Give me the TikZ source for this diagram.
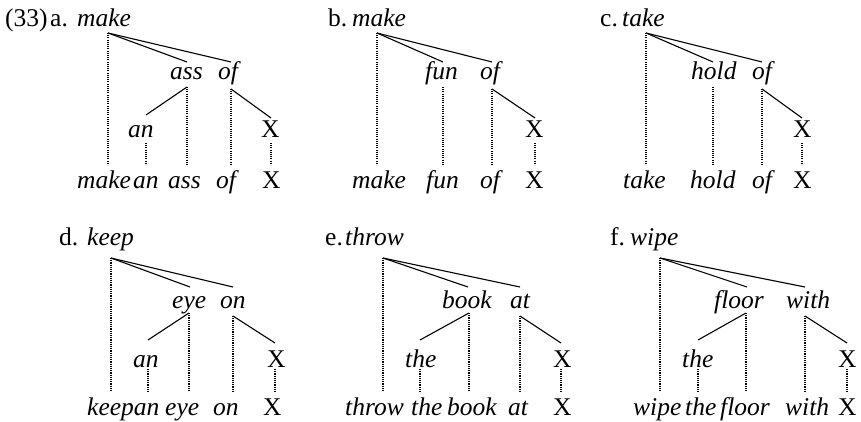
\documentclass[tikz,border=0pt]{standalone}
\usepackage{fontspec}
\setmainfont{Liberation Serif}
\begin{document}
\begin{tikzpicture}[x=1pt,y=-1pt,
  it/.style={font=\fontsize{25.5}{28}\selectfont\itshape, inner sep=0pt, anchor=base west},
  rm/.style={font=\fontsize{25.5}{28}\selectfont, inner sep=0pt, anchor=base west},
  br/.style={line width=1.1pt},
  dt/.style={line width=1.1pt, dash pattern=on 1.1pt off 1.1pt}]
\useasboundingbox (0,0) rectangle (861,422);
% ---------------- a ----------------
\node[rm] (a-num) at (5,27) {(33)};
\node[rm] (a-let) at (50,27) {a.};
\node[it] (a-head) at (77,27) {make};
\node[it] (a-ass) at (170,80) {ass};
\node[it] (a-of) at (218,80) {of};
\node[it] (a-an) at (128,138) {an};
\node[rm] (a-X) at (261,138) {X};
\node[it] (a-w1) at (77,188) {make};
\node[it] (a-w2) at (133,188) {an};
\node[it] (a-w3) at (168,188) {ass};
\node[it] (a-w4) at (216,188) {of};
\node[rm] (a-w5) at (262,188) {X};
\coordinate (a-r) at (108,33);
\coordinate (a-asst) at (187,62); \coordinate (a-oft) at (231,62);
\coordinate (a-assb) at (187,87); \coordinate (a-ofb) at (231,89);
\coordinate (a-ant) at (146,115); \coordinate (a-Xt) at (271,118);
\coordinate (a-anb) at (146,143); \coordinate (a-Xb) at (271,143);
\coordinate (a-b1) at (108,165); \coordinate (a-b2) at (146,165);
\coordinate (a-b3) at (187,165); \coordinate (a-b4) at (231,165);
\coordinate (a-b5) at (271,165);
\draw[br] (a-r) -- (a-asst);
\draw[br] (a-r) -- (a-oft);
\draw[br] (a-assb) -- (a-ant);
\draw[br] (a-ofb) -- (a-Xt);
\draw[dt] (a-r) -- (a-b1);
\draw[dt] (a-anb) -- (a-b2);
\draw[dt] (a-assb) -- (a-b3);
\draw[dt] (a-ofb) -- (a-b4);
\draw[dt] (a-Xb) -- (a-b5);
% ---------------- b ----------------
\node[rm] (b-let) at (328,27) {b.};
\node[it] (b-head) at (352,27) {make};
\node[it] (b-fun) at (425,80) {fun};
\node[it] (b-of) at (480,80) {of};
\node[rm] (b-X) at (525,138) {X};
\node[it] (b-w1) at (352,188) {make};
\node[it] (b-w2) at (426,188) {fun};
\node[it] (b-w3) at (480,188) {of};
\node[rm] (b-w4) at (525,188) {X};
\coordinate (b-r) at (377,33);
\coordinate (b-funt) at (443,62); \coordinate (b-oft) at (492,62);
\coordinate (b-funb) at (443,87); \coordinate (b-ofb) at (492,89);
\coordinate (b-Xt) at (535,118); \coordinate (b-Xb) at (535,143);
\coordinate (b-b1) at (377,165); \coordinate (b-b2) at (443,165);
\coordinate (b-b3) at (492,165); \coordinate (b-b4) at (535,165);
\draw[br] (b-r) -- (b-funt);
\draw[br] (b-r) -- (b-oft);
\draw[br] (b-ofb) -- (b-Xt);
\draw[dt] (b-r) -- (b-b1);
\draw[dt] (b-funb) -- (b-b2);
\draw[dt] (b-ofb) -- (b-b3);
\draw[dt] (b-Xb) -- (b-b4);
% ---------------- c ----------------
\node[rm] (c-let) at (600,27) {c.};
\node[it] (c-head) at (622,27) {take};
\node[it] (c-hold) at (691,80) {hold};
\node[it] (c-of) at (752,80) {of};
\node[rm] (c-X) at (793,138) {X};
\node[it] (c-w1) at (623,188) {take};
\node[it] (c-w2) at (690,188) {hold};
\node[it] (c-w3) at (752,188) {of};
\node[rm] (c-w4) at (793,188) {X};
\coordinate (c-r) at (646,33);
\coordinate (c-holdt) at (713,62); \coordinate (c-oft) at (762,62);
\coordinate (c-holdb) at (713,87); \coordinate (c-ofb) at (762,89);
\coordinate (c-Xt) at (802,118); \coordinate (c-Xb) at (802,143);
\coordinate (c-b1) at (646,165); \coordinate (c-b2) at (713,165);
\coordinate (c-b3) at (762,165); \coordinate (c-b4) at (802,165);
\draw[br] (c-r) -- (c-holdt);
\draw[br] (c-r) -- (c-oft);
\draw[br] (c-ofb) -- (c-Xt);
\draw[dt] (c-r) -- (c-b1);
\draw[dt] (c-holdb) -- (c-b2);
\draw[dt] (c-ofb) -- (c-b3);
\draw[dt] (c-Xb) -- (c-b4);
% ---------------- d ----------------
\node[rm] (d-let) at (59,245) {d.};
\node[it] (d-head) at (87,245) {keep};
\node[it] (d-eye) at (172,308) {eye};
\node[it] (d-on) at (220,308) {on};
\node[it] (d-an) at (133,367) {an};
\node[rm] (d-X) at (267,367) {X};
\node[it] (d-w1) at (87,415) {keepan};
\node[it] (d-w3) at (165,415) {eye};
\node[it] (d-w4) at (213,415) {on};
\node[rm] (d-w5) at (263,415) {X};
\coordinate (d-r) at (111,258);
\coordinate (d-eyet) at (190,287); \coordinate (d-ont) at (233,287);
\coordinate (d-eyeb) at (189,313); \coordinate (d-onb) at (233,316);
\coordinate (d-ant) at (148,340); \coordinate (d-Xt) at (275,343);
\coordinate (d-anb) at (148,369); \coordinate (d-Xb) at (275,369);
\coordinate (d-b1) at (111,392); \coordinate (d-b2) at (148,392);
\coordinate (d-b3) at (189,392); \coordinate (d-b4) at (233,392);
\coordinate (d-b5) at (275,392);
\draw[br] (d-r) -- (d-eyet);
\draw[br] (d-r) -- (d-ont);
\draw[br] (d-eyeb) -- (d-ant);
\draw[br] (d-onb) -- (d-Xt);
\draw[dt] (d-r) -- (d-b1);
\draw[dt] (d-anb) -- (d-b2);
\draw[dt] (d-eyeb) -- (d-b3);
\draw[dt] (d-onb) -- (d-b4);
\draw[dt] (d-Xb) -- (d-b5);
% ---------------- e ----------------
\node[rm] (e-let) at (325,245) {e.};
\node[it] (e-head) at (345,245) {throw};
\node[it] (e-book) at (442,308) {book};
\node[it] (e-at) at (510,308) {at};
\node[it] (e-the) at (405,367) {the};
\node[rm] (e-X) at (553,367) {X};
\node[it] (e-w1) at (345,415) {throw};
\node[it] (e-w2) at (411,415) {the};
\node[it] (e-w3) at (447,415) {book};
\node[it] (e-w4) at (508,415) {at};
\node[rm] (e-w5) at (553,415) {X};
\coordinate (e-r) at (383,258);
\coordinate (e-bookt) at (468,287); \coordinate (e-att) at (520,287);
\coordinate (e-bookb) at (469,313); \coordinate (e-atb) at (520,316);
\coordinate (e-thet) at (420,340); \coordinate (e-Xt) at (561,343);
\coordinate (e-theb) at (420,369); \coordinate (e-Xb) at (561,369);
\coordinate (e-b1) at (383,392); \coordinate (e-b2) at (420,392);
\coordinate (e-b3) at (469,392); \coordinate (e-b4) at (520,392);
\coordinate (e-b5) at (561,392);
\draw[br] (e-r) -- (e-bookt);
\draw[br] (e-r) -- (e-att);
\draw[br] (e-bookb) -- (e-thet);
\draw[br] (e-atb) -- (e-Xt);
\draw[dt] (e-r) -- (e-b1);
\draw[dt] (e-theb) -- (e-b2);
\draw[dt] (e-bookb) -- (e-b3);
\draw[dt] (e-atb) -- (e-b4);
\draw[dt] (e-Xb) -- (e-b5);
% ---------------- f ----------------
\node[rm] (f-let) at (610,245) {f.};
\node[it] (f-head) at (630,245) {wipe};
\node[it] (f-floor) at (714,308) {floor};
\node[it] (f-with) at (786,308) {with};
\node[it] (f-the) at (682,367) {the};
\node[rm] (f-X) at (838,367) {X};
\node[it] (f-w1) at (633,415) {wipe};
\node[it] (f-w2) at (685,415) {the};
\node[it] (f-w3) at (720,415) {floor};
\node[it] (f-w4) at (785,415) {with};
\node[rm] (f-w5) at (838,415) {X};
\coordinate (f-r) at (660,258);
\coordinate (f-floort) at (747,287); \coordinate (f-witht) at (805,287);
\coordinate (f-floorb) at (746,313); \coordinate (f-withb) at (805,316);
\coordinate (f-thet) at (698,340); \coordinate (f-Xt) at (847,343);
\coordinate (f-theb) at (698,369); \coordinate (f-Xb) at (847,369);
\coordinate (f-b1) at (660,392); \coordinate (f-b2) at (698,392);
\coordinate (f-b3) at (746,392); \coordinate (f-b4) at (805,392);
\coordinate (f-b5) at (847,392);
\draw[br] (f-r) -- (f-floort);
\draw[br] (f-r) -- (f-witht);
\draw[br] (f-floorb) -- (f-thet);
\draw[br] (f-withb) -- (f-Xt);
\draw[dt] (f-r) -- (f-b1);
\draw[dt] (f-theb) -- (f-b2);
\draw[dt] (f-floorb) -- (f-b3);
\draw[dt] (f-withb) -- (f-b4);
\draw[dt] (f-Xb) -- (f-b5);
\end{tikzpicture}
\end{document}
